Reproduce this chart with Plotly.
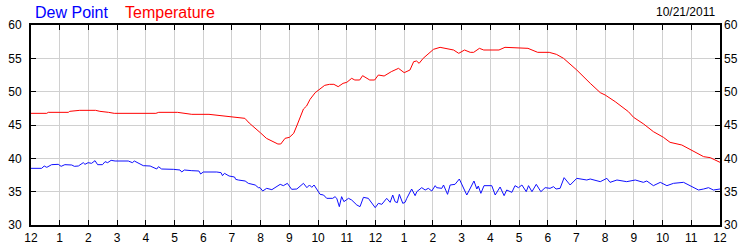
import plotly.graph_objects as go

# ---- data (hours since midnight) ----
temp_hours = [0, 0.55, 0.6, 1.3, 1.35, 1.7, 2.25, 2.4, 2.7, 2.9, 4.35, 4.45, 5.1, 5.3, 5.6, 6.2, 6.85, 7.3,
              7.45, 7.6, 7.8, 8.0, 8.2, 8.44, 8.6, 8.7, 8.85, 9.0, 9.15, 9.27, 9.38, 9.49, 9.6, 9.72, 9.9,
              10.06, 10.23, 10.4, 10.55, 10.7, 10.87, 11.0, 11.17, 11.28, 11.45, 11.55, 11.8, 11.97, 12.1,
              12.3, 12.55, 12.8, 13.0, 13.2, 13.33, 13.43, 13.52, 13.66, 13.84, 14.02, 14.25, 14.55, 14.72,
              14.9, 15.1, 15.3, 15.42, 15.62, 15.77, 16.3, 16.51, 17.31, 17.48, 17.65, 18.05, 18.3, 18.55,
              19.01, 19.48, 19.83, 20.0, 20.35, 20.81, 20.99, 21.34, 21.68, 22.03, 22.26, 22.67, 23.02,
              23.43, 23.66, 23.95, 24.0]
temp_values = [46.75, 46.75, 46.9, 46.9, 47.05, 47.2, 47.2, 47.05, 46.9, 46.75, 46.75, 46.9, 46.9, 46.75,
               46.6, 46.6, 46.3, 46.15, 46.0, 45.3, 44.6, 43.8, 43.0, 42.5, 42.15, 42.15, 43.0, 43.15, 43.75,
               45.0, 46.35, 47.4, 47.85, 48.85, 49.85, 50.35, 50.95, 51.1, 51.1, 50.75, 51.25, 51.4, 52.0,
               51.75, 51.75, 52.4, 51.75, 51.75, 52.5, 52.35, 53.0, 53.5, 52.85, 53.25, 54.5, 54.6, 54.25,
               55.0, 55.65, 56.35, 56.65, 56.4, 56.25, 55.75, 56.25, 55.9, 55.9, 56.5, 56.25, 56.25, 56.65,
               56.5, 56.2, 55.9, 55.9, 55.6, 55.0, 53.25, 51.25, 49.85, 49.5, 48.5, 47.0, 46.15, 45.15, 44.0,
               43.15, 42.4, 42.0, 41.25, 40.25, 40.1, 39.5, 39.4]

dew_hours = [0.0, 0.37, 0.46, 0.55, 0.72, 0.95, 1.05, 1.18, 1.42, 1.51, 1.65, 1.82, 1.88, 1.99, 2.11, 2.23,
             2.32, 2.49, 2.58, 2.67, 2.79, 2.93, 3.39, 3.53, 3.6, 3.74, 3.91, 4.15, 4.2, 4.38, 4.44, 4.55,
             4.96, 5.19, 5.25, 5.34, 5.6, 5.85, 5.91, 6.0, 6.47, 6.62, 6.67, 6.74, 6.9, 7.09, 7.13, 7.22,
             7.46, 7.57, 7.81, 7.92, 7.98, 8.07, 8.21, 8.39, 8.68, 8.79, 8.93, 9.08, 9.26, 9.49, 9.61, 9.7,
             9.78, 9.86, 10.07, 10.19, 10.3, 10.51, 10.59, 10.65, 10.74, 10.82, 10.9, 11.06, 11.17, 11.35,
             11.46, 11.58, 11.75, 11.99, 12.1, 12.22, 12.39, 12.51, 12.6, 12.68, 12.76, 12.83, 12.95, 13.03,
             13.09, 13.26, 13.38, 13.44, 13.61, 13.73, 13.84, 13.96, 14.08, 14.13, 14.31, 14.37, 14.51,
             14.6, 14.77, 14.92, 15.18, 15.43, 15.53, 15.58, 15.67, 15.78, 16.05, 16.17, 16.34, 16.48,
             16.57, 16.75, 16.86, 16.98, 17.1, 17.25, 17.33, 17.45, 17.6, 17.76, 17.91, 18.08, 18.2, 18.29,
             18.43, 18.57, 18.78, 19.01, 19.36, 19.48, 19.83, 20.06, 20.17, 20.41, 20.75, 21.05, 21.33,
             21.45, 21.68, 21.92, 22.15, 22.38, 22.73, 23.02, 23.25, 23.43, 23.6, 23.77, 24.0]
dew_values = [38.5, 38.5, 38.85, 38.65, 39.05, 39.1, 38.8, 39.05, 39.0, 38.8, 38.85, 39.35, 39.1, 39.35,
              39.25, 39.65, 39.05, 39.05, 39.5, 39.35, 39.7, 39.6, 39.6, 39.35, 39.6, 39.25, 38.9, 38.85,
              38.75, 38.4, 38.75, 38.4, 38.35, 38.25, 37.95, 38.25, 38.15, 38.1, 37.65, 37.95, 37.95, 37.85,
              37.4, 37.75, 37.35, 37.2, 36.85, 36.75, 36.6, 36.25, 36.0, 35.6, 35.6, 35.1, 35.5, 35.3, 36.1,
              35.9, 36.25, 35.35, 35.4, 36.25, 35.6, 36.0, 35.65, 36.0, 34.6, 34.5, 34.0, 34.0, 34.25, 34.0,
              32.75, 34.25, 33.5, 34.0, 33.75, 33.0, 32.75, 34.15, 34.0, 32.6, 33.25, 33.1, 34.0, 33.4, 34.5,
              33.5, 33.35, 34.6, 33.25, 33.4, 34.0, 35.4, 34.4, 35.0, 35.6, 35.25, 35.5, 35.1, 35.9, 35.6,
              35.5, 36.0, 34.6, 36.0, 36.1, 36.9, 34.5, 36.6, 35.4, 35.85, 34.75, 35.9, 35.9, 34.5, 35.7,
              34.4, 35.25, 34.9, 35.9, 35.6, 36.0, 35.0, 35.9, 35.0, 36.1, 35.0, 35.6, 35.5, 35.75, 35.4,
              35.5, 37.1, 36.0, 37.0, 36.75, 36.9, 36.5, 37.0, 36.4, 36.75, 36.5, 36.75, 36.4, 36.6, 35.9,
              36.4, 35.9, 36.25, 36.4, 35.75, 35.25, 35.4, 35.6, 35.25, 35.4]

x_tick_vals = list(range(0, 25))
x_tick_text = ["12", "1", "2", "3", "4", "5", "6", "7", "8", "9", "10", "11",
               "12", "1", "2", "3", "4", "5", "6", "7", "8", "9", "10", "11", "12"]
y_tick_vals = [30, 35, 40, 45, 50, 55, 60]
date_label = "10/21/2011"
series_names = ["Dew Point", "Temperature"]

FONT = "Liberation Sans, Arial, sans-serif"

fig = go.Figure()
fig.add_trace(go.Scatter(x=dew_hours, y=dew_values, mode="lines", name=series_names[0],
                         line=dict(color="#1010ff", width=1), hoverinfo="skip"))
fig.add_trace(go.Scatter(x=temp_hours, y=temp_values, mode="lines", name=series_names[1],
                         line=dict(color="#ff0000", width=1), hoverinfo="skip"))
# invisible trace for the right-side axis labels
fig.add_trace(go.Scatter(x=[0], y=[45], yaxis="y2", mode="markers",
                         marker=dict(opacity=0), showlegend=False, hoverinfo="skip"))

axis_common = dict(showline=True, linecolor="black", linewidth=2, showgrid=True,
                   gridcolor="#d0d0d0", gridwidth=1, zeroline=False, automargin=False,
                   ticks="inside", ticklen=5, tickcolor="black", tickwidth=1,
                   tickfont=dict(family=FONT, size=12, color="#000000"))

fig.update_layout(
    width=750, height=250,
    margin=dict(l=31, r=30, t=25, b=25),
    paper_bgcolor="white", plot_bgcolor="white",
    showlegend=False,
    xaxis=dict(range=[0, 24], tickmode="array", tickvals=x_tick_vals, ticktext=x_tick_text,
               mirror="ticks", ticklabelstandoff=1, **axis_common),
    yaxis=dict(range=[30, 60], tickmode="array", tickvals=y_tick_vals, mirror="ticks",
               ticklabelstandoff=5, **axis_common),
    yaxis2=dict(range=[30, 60], overlaying="y", side="right", tickmode="array",
                tickvals=y_tick_vals, showgrid=False, showline=False, ticks="",
                zeroline=False, ticklabelstandoff=3, automargin=False,
                tickfont=dict(family=FONT, size=12, color="#000000")),
    annotations=[
        dict(text=series_names[0], xref="paper", yref="paper", x=0.003, y=1.06,
             xanchor="left", yanchor="middle", showarrow=False,
             font=dict(family=FONT, size=16, color="#0000ff")),
        dict(text=series_names[1], xref="paper", yref="paper", x=0.1335, y=1.06,
             xanchor="left", yanchor="middle", showarrow=False,
             font=dict(family=FONT, size=16, color="#ff0000")),
        dict(text=date_label, xref="paper", yref="paper", x=0.9956, y=1.065,
             xanchor="right", yanchor="middle", showarrow=False,
             font=dict(family=FONT, size=12, color="#000000")),
    ],
)

fig.write_html("out.html")
